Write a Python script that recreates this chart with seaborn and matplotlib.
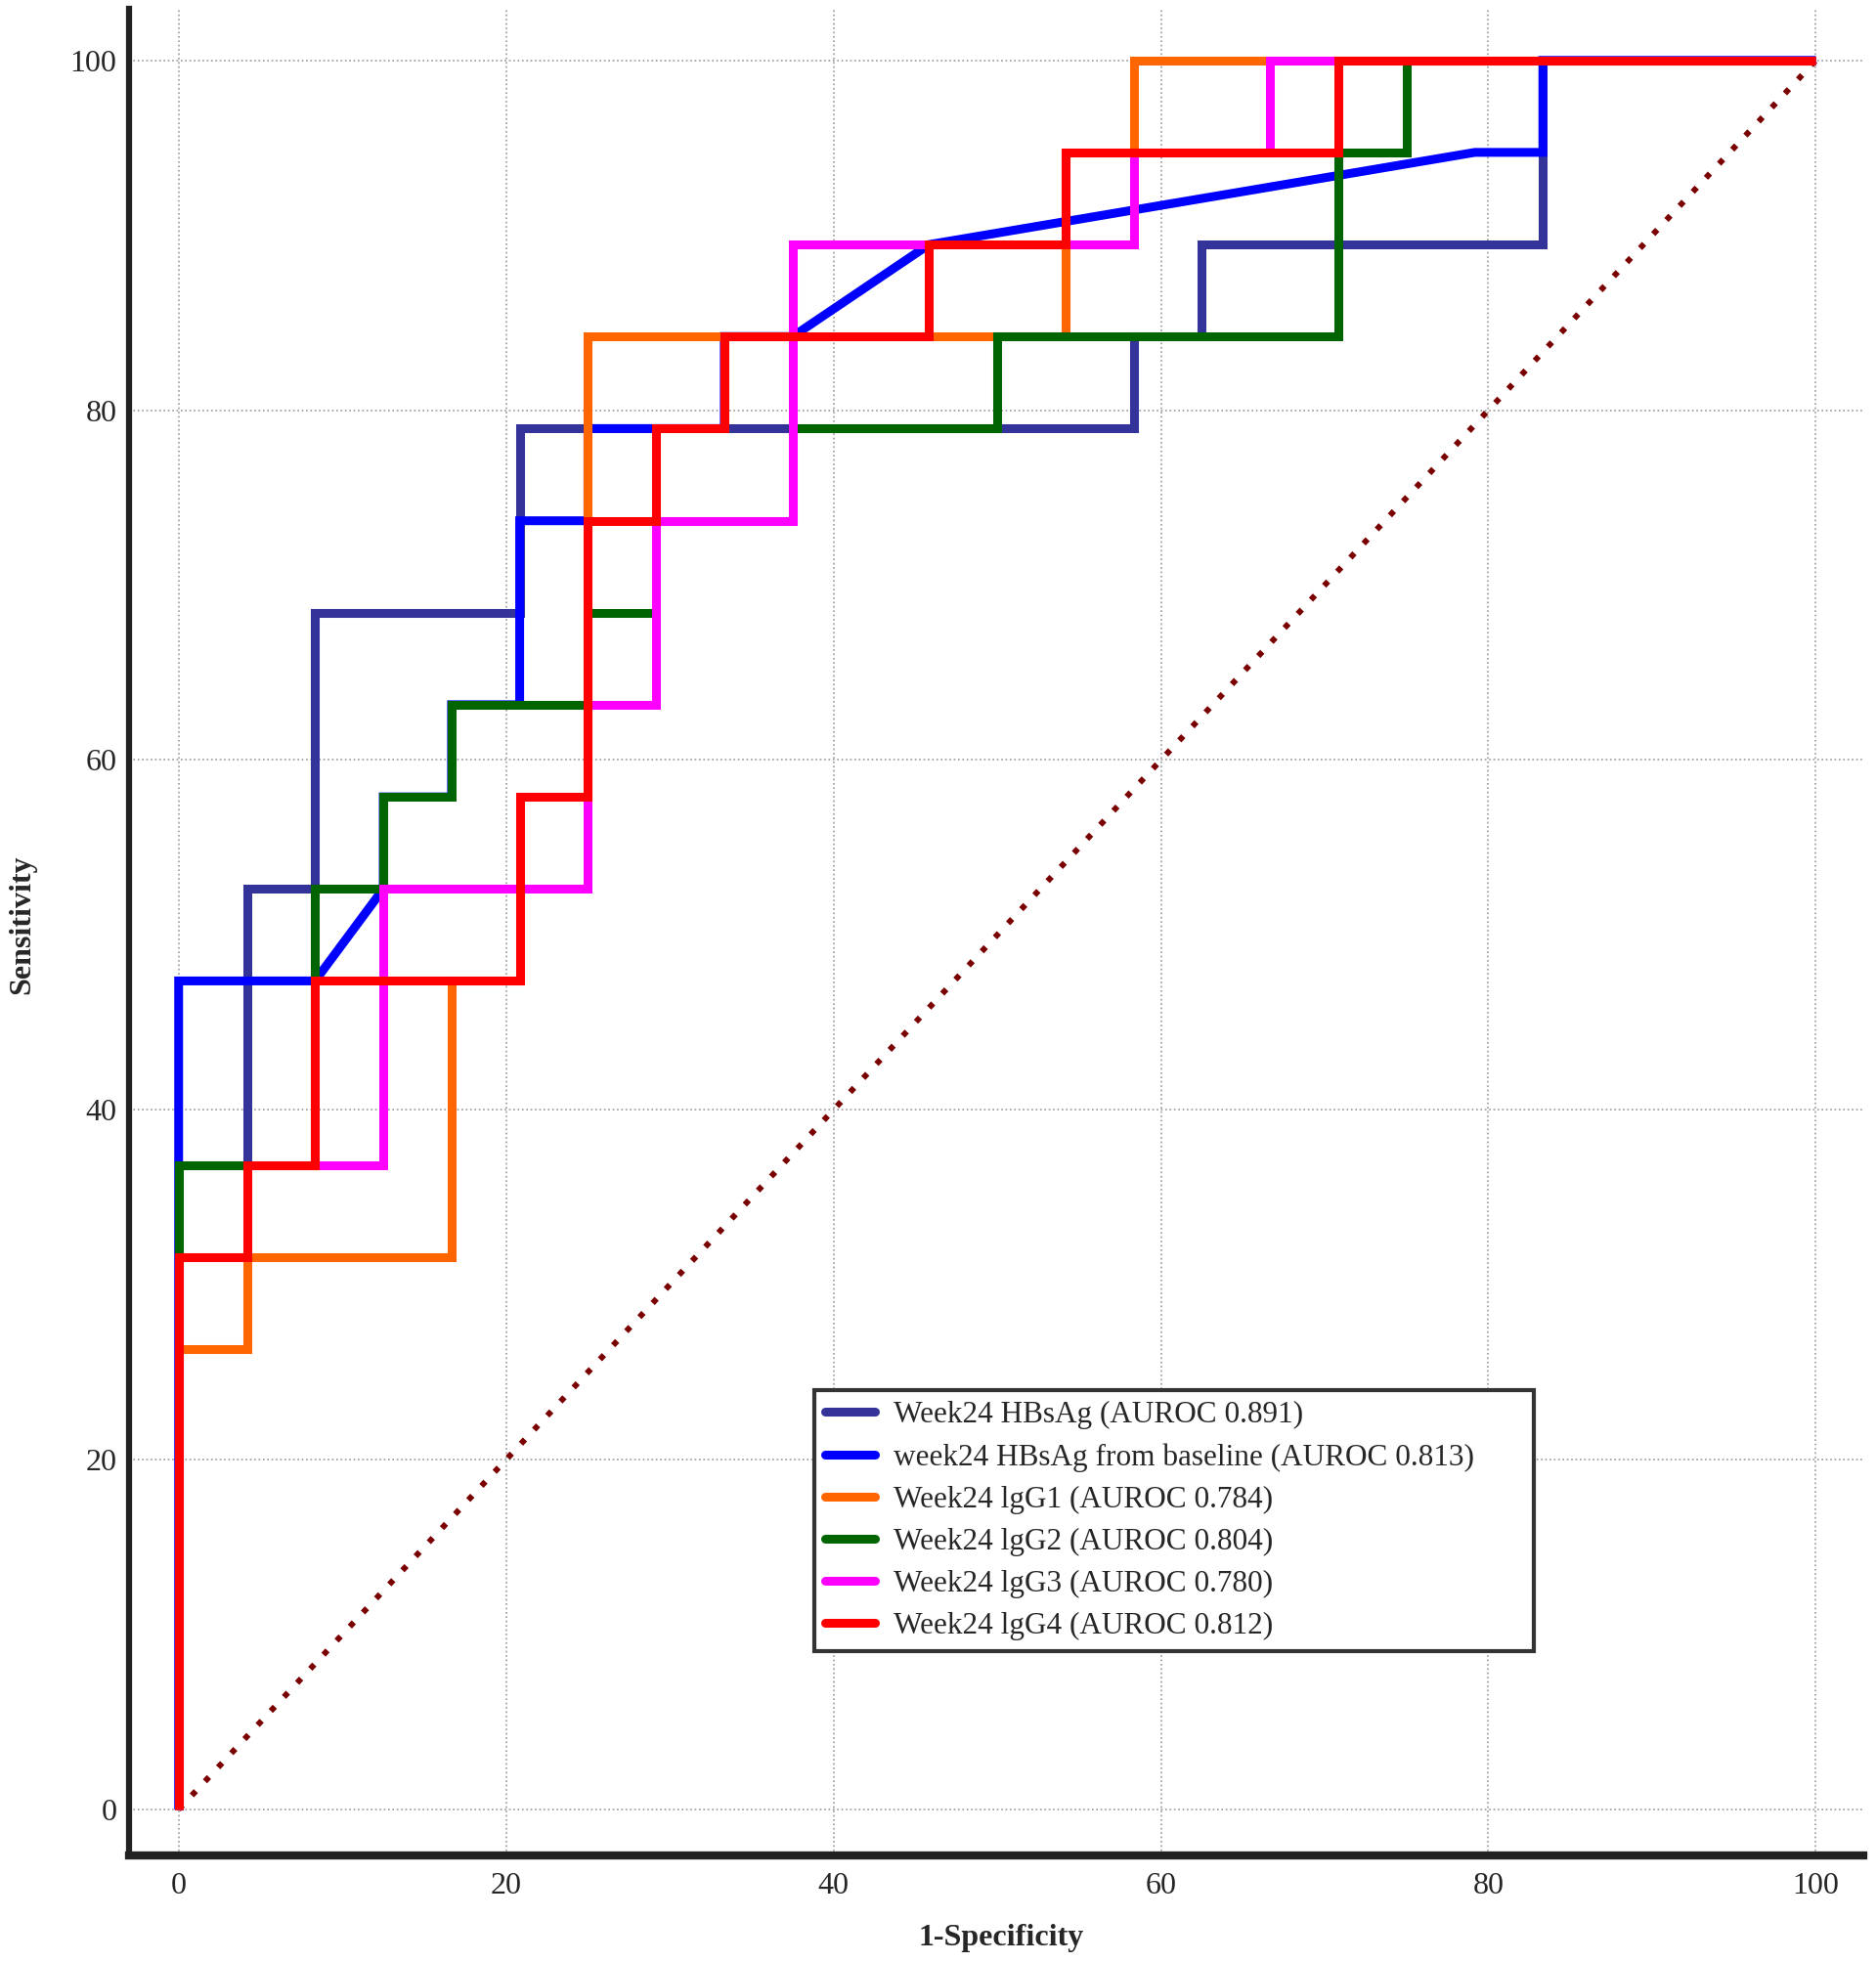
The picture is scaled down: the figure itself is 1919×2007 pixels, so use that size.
import matplotlib
matplotlib.use("Agg")
import matplotlib.pyplot as plt
from matplotlib.lines import Line2D
from matplotlib.ticker import MultipleLocator
import seaborn as sns
import pandas as pd

# ROC 曲线数据 (1-特异度 %, 灵敏度 %)
names = [
    "Week24 HBsAg (AUROC 0.891)",
    "week24 HBsAg from baseline (AUROC 0.813)",
    "Week24 lgG1 (AUROC 0.784)",
    "Week24 lgG2 (AUROC 0.804)",
    "Week24 lgG3 (AUROC 0.780)",
    "Week24 lgG4 (AUROC 0.812)",
]
colors = ["#333399", "#0000ff", "#ff6600", "#006400", "#ff00ff", "#ff0000"]

hbsag_fpr = [0, 0, 4.17, 4.17, 8.33, 8.33, 20.83, 20.83, 58.33, 58.33, 62.5, 62.5, 83.33, 83.33, 100]
hbsag_tpr = [0, 36.84, 36.84, 52.63, 52.63, 68.42, 68.42, 78.95, 78.95, 84.21, 84.21, 89.47, 89.47, 100, 100]

base_fpr = [0, 0, 8.33, 12.5, 12.5, 16.67, 16.67, 20.83, 20.83, 25, 25, 33.33, 33.33, 37.5, 45.83, 79.17, 83.33, 83.33, 100]
base_tpr = [0, 47.37, 47.37, 52.63, 57.89, 57.89, 63.16, 63.16, 73.68, 73.68, 78.95, 78.95, 84.21, 84.21, 89.47, 94.74, 94.74, 100, 100]

igg1_fpr = [0, 0, 4.17, 4.17, 16.67, 16.67, 20.83, 20.83, 25, 25, 54.17, 54.17, 58.33, 58.33, 100]
igg1_tpr = [0, 26.32, 26.32, 31.58, 31.58, 47.37, 47.37, 57.89, 57.89, 84.21, 84.21, 94.74, 94.74, 100, 100]

igg2_fpr = [0, 0, 8.33, 8.33, 12.5, 12.5, 16.67, 16.67, 25, 25, 29.17, 29.17, 37.5, 37.5, 50, 50, 70.83, 70.83, 75, 75, 100]
igg2_tpr = [0, 36.84, 36.84, 52.63, 52.63, 57.89, 57.89, 63.16, 63.16, 68.42, 68.42, 73.68, 73.68, 78.95, 78.95, 84.21, 84.21, 94.74, 94.74, 100, 100]

igg3_fpr = [0, 0, 4.17, 4.17, 12.5, 12.5, 25, 25, 29.17, 29.17, 37.5, 37.5, 58.33, 58.33, 66.67, 66.67, 100]
igg3_tpr = [0, 31.58, 31.58, 36.84, 36.84, 52.63, 52.63, 63.16, 63.16, 73.68, 73.68, 89.47, 89.47, 94.74, 94.74, 100, 100]

igg4_fpr = [0, 0, 4.17, 4.17, 8.33, 8.33, 20.83, 20.83, 25, 25, 29.17, 29.17, 33.33, 33.33, 45.83, 45.83, 54.17, 54.17, 70.83, 70.83, 100]
igg4_tpr = [0, 31.58, 31.58, 36.84, 36.84, 47.37, 47.37, 57.89, 57.89, 73.68, 73.68, 78.95, 78.95, 84.21, 84.21, 89.47, 89.47, 94.74, 94.74, 100, 100]

chance_x = [0, 100]
chance_y = [0, 100]

fprs = [hbsag_fpr, base_fpr, igg1_fpr, igg2_fpr, igg3_fpr, igg4_fpr]
tprs = [hbsag_tpr, base_tpr, igg1_tpr, igg2_tpr, igg3_tpr, igg4_tpr]

# 转成长格式，方便 seaborn 绘图
rows = []
for name, fpr, tpr in zip(names, fprs, tprs):
    for x, y in zip(fpr, tpr):
        rows.append({"curve": name, "fpr": x, "tpr": y})
df = pd.DataFrame(rows)

sns.set_style("white")
plt.rcParams["font.family"] = ["Liberation Serif", "DejaVu Serif"]

fig = plt.figure(figsize=(19.19, 20.07), dpi=100)
ax = fig.add_axes([132 / 1919, 109 / 2007, 1774 / 1919, 1889 / 2007])

# 参考线
ax.plot(chance_x, chance_y, color="#7a0000", lw=4.3, dashes=(1, 2.3), dash_capstyle="butt")

sns.lineplot(data=df, x="fpr", y="tpr", hue="curve", hue_order=names, palette=colors,
             sort=False, estimator=None, linewidth=6.5, legend=False, ax=ax,
             solid_joinstyle="miter", solid_capstyle="butt")

ax.set_xlim(-3.03, 102.9)
ax.set_ylim(-2.63, 102.95)
ax.set_xticks(range(0, 101, 20))
ax.set_yticks(range(0, 101, 20))
ax.xaxis.set_minor_locator(MultipleLocator(5))
ax.yaxis.set_minor_locator(MultipleLocator(5))

ax.tick_params(axis="x", which="major", direction="in", length=30, width=1.6,
               pad=12, labelsize=23, color="#222222")
ax.tick_params(axis="x", which="minor", direction="in", length=17, width=1.6, color="#222222")
ax.tick_params(axis="y", which="major", direction="in", length=34.5, width=3.6,
               pad=9, labelsize=23, color="#222222")
ax.tick_params(axis="y", which="minor", direction="in", length=18, width=2.2, color="#222222")

ax.grid(True, which="major", linestyle=":", color="#9a9a9a", linewidth=1.2)
ax.set_axisbelow(True)

for side in ["top", "right"]:
    ax.spines[side].set_visible(False)
ax.spines["left"].set_linewidth(4.5)
ax.spines["bottom"].set_linewidth(6)
ax.spines["left"].set_color("#222222")
ax.spines["bottom"].set_color("#222222")

ax.set_xlabel("1-Specificity", fontsize=23, fontweight="bold")
ax.set_ylabel("Sensitivity", fontsize=23, fontweight="bold")
ax.xaxis.set_label_coords(0.503, -0.037)
ax.yaxis.set_label_coords(-0.0535, 0.504)

handles = [Line2D([], [], color=c, lw=6.5) for c in colors]
leg = ax.legend(handles, names, loc="upper left", bbox_to_anchor=(0.395, 0.0, 0.415, 0.252),
                mode="expand", borderaxespad=0, fontsize=22.5, frameon=True, fancybox=False,
                edgecolor="#333333", framealpha=1, handlelength=1.65, handletextpad=0.6,
                labelspacing=0.45, borderpad=0.35)
leg.get_frame().set_linewidth(3)

fig.savefig("out.png", dpi=100)
